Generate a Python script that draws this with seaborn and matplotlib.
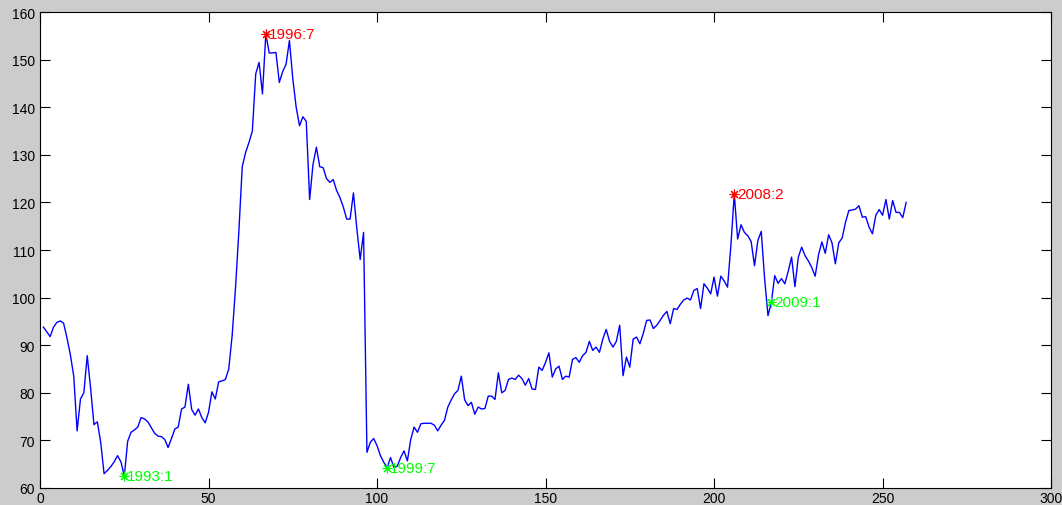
import matplotlib
matplotlib.use("Agg")
import matplotlib.pyplot as plt
import seaborn as sns
import pandas as pd

# monthly index, 1991:1 ... 2012:5 (x = 1..257)
index_values = [
    93.8, 92.8, 91.8, 93.8, 94.8, 95.1, 94.6, 91.5, 88.0, 83.5,
    72.0, 78.7, 80.0, 87.8, 81.0, 73.3, 73.9, 69.6, 63.0, 63.7,
    64.5, 65.5, 66.8, 65.5, 62.5, 69.8, 71.7, 72.2, 72.8, 74.8,
    74.5, 73.9, 72.7, 71.5, 70.9, 70.8, 70.2, 68.5, 70.4, 72.4,
    72.8, 76.6, 77.0, 81.8, 76.5, 75.3, 76.6, 74.8, 73.7, 75.9,
    80.2, 78.7, 82.3, 82.5, 82.8, 85.0, 92.0, 102.0, 114.0, 127.5,
    130.5, 132.6, 135.0, 147.0, 149.4, 142.8, 155.4, 151.4, 151.4, 151.5,
    145.2, 147.5, 149.0, 154.0, 146.0, 140.0, 136.1, 138.0, 137.0, 120.6,
    128.0, 131.6, 127.5, 127.3, 125.0, 124.2, 124.8, 122.5, 121.0, 119.0,
    116.5, 116.5, 122.0, 114.5, 108.0, 113.7, 67.5, 69.6, 70.4, 68.9,
    66.8, 65.4, 64.3, 66.4, 64.3, 64.6, 66.4, 67.8, 65.7, 70.2,
    72.8, 71.7, 73.5, 73.6, 73.6, 73.6, 73.2, 72.0, 73.2, 74.2,
    77.0, 78.5, 79.8, 80.5, 83.5, 78.5, 77.3, 78.0, 75.5, 77.0,
    76.6, 76.7, 79.3, 79.3, 78.6, 84.2, 80.0, 80.5, 82.8, 83.1,
    82.8, 83.7, 83.0, 81.6, 83.0, 80.8, 80.7, 85.4, 84.7, 86.4,
    88.4, 83.3, 85.0, 85.6, 82.8, 83.5, 83.3, 87.0, 87.4, 86.4,
    87.8, 88.5, 90.8, 88.9, 89.6, 88.5, 91.3, 93.3, 90.8, 89.6,
    90.8, 94.2, 83.6, 87.5, 85.4, 91.3, 91.7, 90.3, 92.5, 95.2,
    95.3, 93.5, 94.2, 95.2, 96.3, 97.1, 94.5, 97.7, 97.5, 98.6,
    99.5, 99.9, 99.5, 101.5, 101.9, 97.7, 102.9, 102.0, 100.8, 104.3,
    100.3, 104.5, 103.5, 102.2, 111.0, 121.8, 112.3, 115.3, 113.7, 113.0,
    111.8, 106.7, 112.0, 113.9, 104.0, 96.2, 99.0, 104.6, 103.0, 104.0,
    102.9, 105.5, 108.5, 102.3, 108.5, 110.6, 108.8, 107.7, 106.3, 104.5,
    109.0, 111.7, 109.3, 113.2, 111.5, 107.1, 111.5, 112.5, 115.8, 118.3,
    118.4, 118.6, 119.3, 116.9, 117.0, 114.8, 113.4, 117.3, 118.5, 117.3,
    120.6, 116.5, 120.4, 117.9, 117.9, 116.8, 120.0,
]
months = list(range(1, len(index_values) + 1))

# turning points
peak_labels = ["1996:7", "2008:2"]
peak_pos = [67, 206]
trough_labels = ["1993:1", "1999:7", "2009:1"]
trough_pos = [25, 103, 217]

df = pd.DataFrame({"month": months, "value": index_values})

plt.rcParams["font.family"] = ["Liberation Sans", "DejaVu Sans"]
fig = plt.figure(figsize=(10.62, 5.06), dpi=100, facecolor="#cccccc")
ax = fig.add_axes([0.0377, 0.0336, 0.952, 0.9407])
ax.set_facecolor("white")

sns.lineplot(data=df, x="month", y="value", ax=ax, color="#0000ff", linewidth=1.0)

asterisk = (8, 2, 0)
for pos, lab in zip(peak_pos, peak_labels):
    yv = index_values[pos - 1]
    ax.plot(pos, yv, marker=asterisk, color="#ff0000", markersize=7, mew=0.8)
    ax.text(pos + 0.8, yv, lab, color="#ff0000", fontsize=11, ha="left", va="center")
for pos, lab in zip(trough_pos, trough_labels):
    yv = index_values[pos - 1]
    ax.plot(pos, yv, marker=asterisk, color="#00ff00", markersize=7, mew=0.8)
    ax.text(pos + 0.8, yv, lab, color="#00ff00", fontsize=11, ha="left", va="center")

ax.set_xlim(0, 300)
ax.set_ylim(60, 160)
ax.set_xticks(range(0, 301, 50))
ax.set_yticks(range(60, 161, 10))
ax.set_xlabel("")
ax.set_ylabel("")
ax.tick_params(direction="in", length=7, width=0.8, top=True, right=True,
               labelsize=10, colors="black")
ax.tick_params(axis="x", pad=2)
for s in ax.spines.values():
    s.set_color("black")
    s.set_linewidth(0.8)

fig.savefig("out.png", dpi=100, facecolor=fig.get_facecolor())
